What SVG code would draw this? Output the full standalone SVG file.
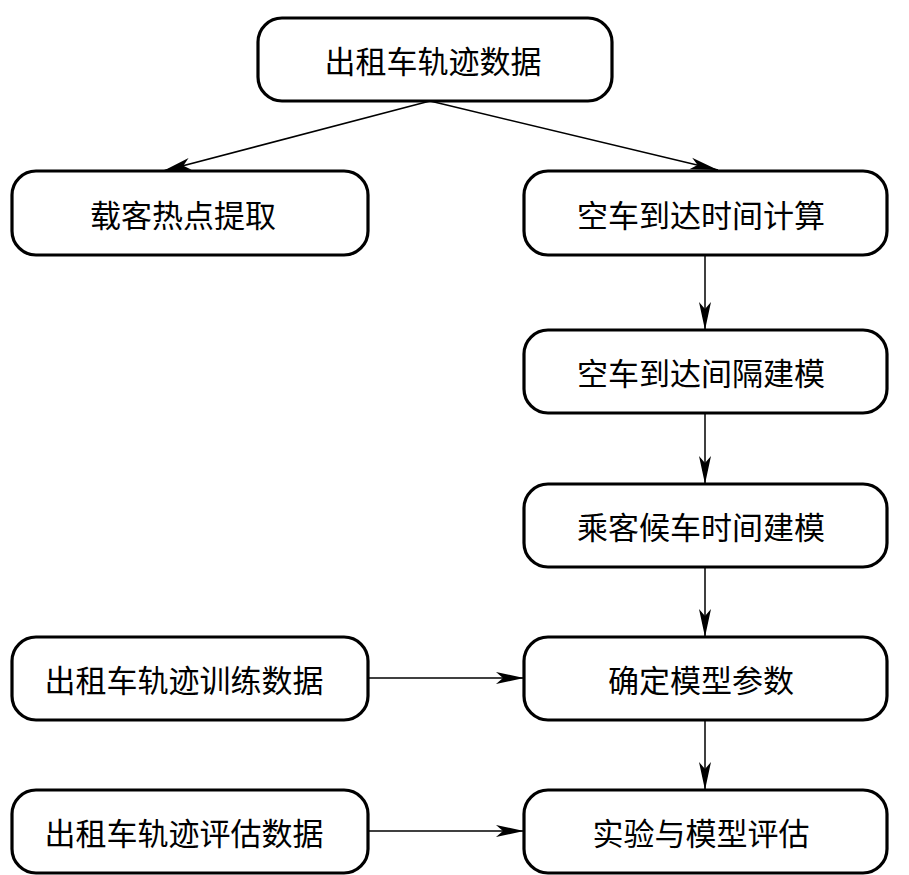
<svg xmlns="http://www.w3.org/2000/svg" width="909" height="875" viewBox="0 0 909 875">
<style>
.box{fill:#fff;stroke:#000;stroke-width:3.2}
.t{font-family:"Noto Sans CJK SC","Noto Sans CJK JP",sans-serif;font-size:31px;fill:#000;text-anchor:middle;dominant-baseline:central}
.c{stroke:#000;stroke-width:1.5;fill:none;marker-end:url(#ah)}
</style>
<defs>
<marker id="ah" markerUnits="userSpaceOnUse" markerWidth="28" markerHeight="14" viewBox="0 0 28 14" refX="28" refY="7" orient="auto">
<path d="M0,1 L28,7 L0,13 L7,7 Z" fill="#000"/>
</marker>
</defs>
<rect width="909" height="875" fill="#fff"/>
<g id="connectors">
<line class="c" x1="430" y1="101" x2="163" y2="171"/>
<line class="c" x1="430" y1="101" x2="718" y2="170"/>
<line class="c" x1="705" y1="256" x2="705" y2="330"/>
<line class="c" x1="705" y1="413" x2="705" y2="484"/>
<line class="c" x1="705" y1="567" x2="705" y2="637"/>
<line class="c" x1="705" y1="720" x2="705" y2="790"/>
<line class="c" x1="368" y1="678" x2="524" y2="678"/>
<line class="c" x1="368" y1="831" x2="524" y2="831"/>
</g>
<g id="n1"><rect class="box" x="258" y="18" width="354" height="83" rx="24"/><text class="t" x="433" y="59">出租车轨迹数据</text></g>
<g id="n2"><rect class="box" x="12" y="171" width="356" height="84" rx="24"/><text class="t" x="183" y="213">载客热点提取</text></g>
<g id="n3"><rect class="box" x="524" y="171" width="363" height="84" rx="24"/><text class="t" x="701" y="213">空车到达时间计算</text></g>
<g id="n4"><rect class="box" x="524" y="330" width="363" height="83" rx="24"/><text class="t" x="701" y="371">空车到达间隔建模</text></g>
<g id="n5"><rect class="box" x="524" y="484" width="363" height="83" rx="24"/><text class="t" x="701" y="525">乘客候车时间建模</text></g>
<g id="n6"><rect class="box" x="524" y="637" width="363" height="83" rx="24"/><text class="t" x="701" y="678">确定模型参数</text></g>
<g id="n7"><rect class="box" x="524" y="790" width="363" height="83" rx="24"/><text class="t" x="701" y="831">实验与模型评估</text></g>
<g id="n8"><rect class="box" x="12" y="637" width="356" height="83" rx="24"/><text class="t" x="184" y="678">出租车轨迹训练数据</text></g>
<g id="n9"><rect class="box" x="12" y="790" width="356" height="83" rx="24"/><text class="t" x="184" y="831">出租车轨迹评估数据</text></g>
</svg>
